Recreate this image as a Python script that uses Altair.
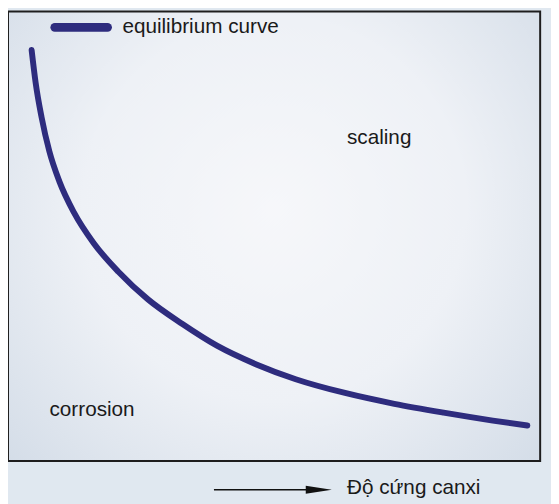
import altair as alt
import pandas as pd

# Equilibrium curve (x: calcium hardness, y: abstract units 0-100)
curve_x = [4.44, 5.19, 6.30, 7.78, 9.63, 12.41, 16.11, 20.74, 26.30, 32.78, 39.26,
           46.67, 54.07, 63.33, 72.59, 81.85, 91.11, 97.59]
curve_y = [91.45, 84.21, 76.54, 68.86, 62.28, 55.26, 48.46, 42.11, 35.96, 30.48, 25.66,
           21.49, 18.20, 15.13, 12.72, 10.75, 8.99, 7.89]

legend_label = "equilibrium curve"
region_labels = ["scaling", "corrosion"]
axis_label = "Độ cứng canxi"

W, H = 540, 456
FONT = "Liberation Sans"
FS = 21
CURVE_COLOR = "#2e2c7e"

xs = alt.Scale(domain=[0, 100], nice=False, zero=False)
ys = alt.Scale(domain=[0, 100], nice=False, zero=False)

df_curve = pd.DataFrame({"x": curve_x, "y": curve_y})

grad = {
    "gradient": "radial",
    "x1": 0.5, "y1": 0.45, "r1": 0.0,
    "x2": 0.5, "y2": 0.45, "r2": 0.8,
    "stops": [
        {"offset": 0.0, "color": "#f6f7fa"},
        {"offset": 0.45, "color": "#eef1f6"},
        {"offset": 1.0, "color": "#cbd6e3"},
    ],
}

bg = alt.Chart(pd.DataFrame({"x": [0], "x2": [100], "y": [0], "y2": [100]})).mark_rect(
    color=grad,
    stroke="#1e1e1e",
    strokeWidth=2,
).encode(
    x=alt.X("x:Q", scale=xs, axis=None),
    x2="x2:Q",
    y=alt.Y("y:Q", scale=ys, axis=None),
    y2="y2:Q",
)

line = alt.Chart(df_curve).mark_line(
    color=CURVE_COLOR, strokeWidth=6, strokeCap="round", interpolate="monotone"
).encode(
    x=alt.X("x:Q", scale=xs, axis=None),
    y=alt.Y("y:Q", scale=ys, axis=None),
)

# legend swatch + label
leg_line = alt.Chart(pd.DataFrame({"x": [8.8], "x2": [18.7], "y": [96.5]})).mark_rule(
    color=CURVE_COLOR, strokeWidth=9, strokeCap="round"
).encode(x=alt.X("x:Q", scale=xs), x2="x2:Q", y=alt.Y("y:Q", scale=ys))

texts = pd.DataFrame({
    "x": [21.5, 63.7, 7.8],
    "y": [96.5, 71.8, 11.4],
    "t": [legend_label] + region_labels,
})
txt = alt.Chart(texts).mark_text(
    align="left", baseline="middle", fontSize=FS, font=FONT, color="#1a1a1a"
).encode(x=alt.X("x:Q", scale=xs), y=alt.Y("y:Q", scale=ys), text="t:N")

# axis arrow below the box
arrow_line = alt.Chart(pd.DataFrame({"x": [38.7], "x2": [56.5], "y": [-6.4]})).mark_rule(
    color="#111", strokeWidth=1.5
).encode(x=alt.X("x:Q", scale=xs), x2="x2:Q", y=alt.Y("y:Q", scale=ys))

arrow_head = alt.Chart(pd.DataFrame({"x": [58.4], "y": [-6.4]})).mark_point(
    shape="M-1,-0.3L1,0L-1,0.3Z", size=700, filled=True, color="#111", opacity=1
).encode(x=alt.X("x:Q", scale=xs), y=alt.Y("y:Q", scale=ys))

axis_txt = alt.Chart(pd.DataFrame({"x": [63.7], "y": [-6.0], "t": [axis_label]})).mark_text(
    align="left", baseline="middle", fontSize=FS, font=FONT, color="#1a1a1a"
).encode(x=alt.X("x:Q", scale=xs), y=alt.Y("y:Q", scale=ys), text="t:N")

chart = alt.layer(bg, line, leg_line, txt, arrow_line, arrow_head, axis_txt).properties(
    width=W, height=H,
    autosize=alt.AutoSizeParams(type="none"),
    padding={"left": 0, "top": 0, "right": 11, "bottom": 40},
    background="#e0e8f0",
).configure_view(stroke=None)

chart.save("out.html", embed_options={"renderer": "svg", "actions": False})
